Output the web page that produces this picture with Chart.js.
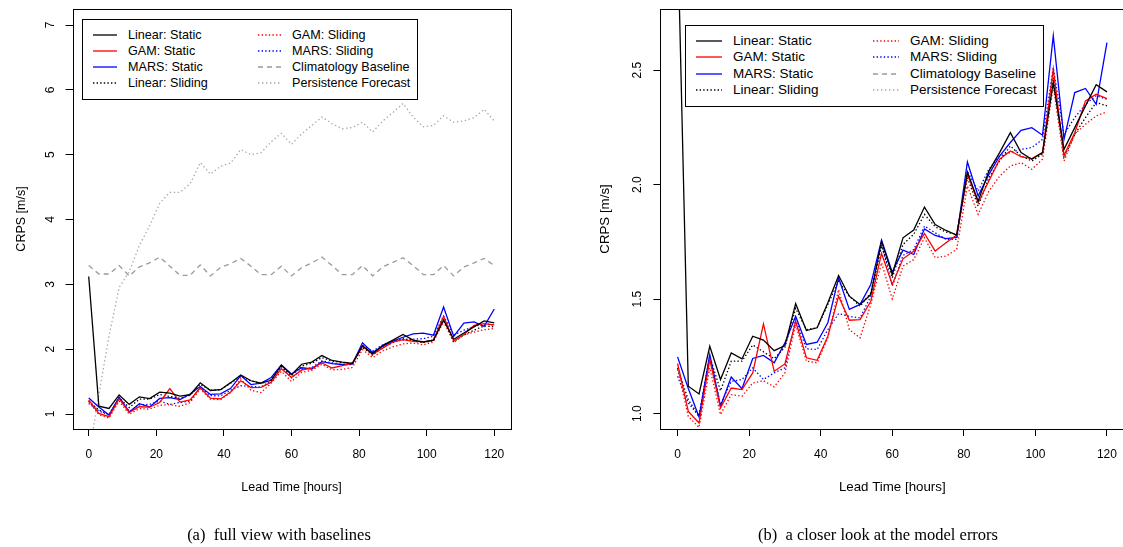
<!DOCTYPE html>
<html>
<head>
<meta charset="utf-8">
<script src="https://cdn.jsdelivr.net/npm/chart.js@4.4.1/dist/chart.umd.min.js"></script>
<style>
  html, body { margin: 0; padding: 0; background: #fff; }
  body { width: 1123px; height: 547px; position: relative; overflow: hidden; font-family: "Liberation Sans", Arial, sans-serif; }
  .panel { position: absolute; top: 0; height: 547px; }
  .legend { position: absolute; border: 1px solid #000; background: #fff; box-sizing: border-box; }
  .legend .txt { position: absolute; white-space: nowrap; line-height: 1; transform: translateY(-50%); color: #000; }
  .legend svg { position: absolute; overflow: visible; }
  .caption { position: absolute; top: 525px; transform: translateX(-50%); white-space: nowrap;
             font-family: "Liberation Serif", "Times New Roman", serif; font-size: 16.5px; color: #000; }
</style>
</head>
<body>
<div class="panel" style="left:0;width:560px"><canvas id="chartA"></canvas></div>
<div class="panel" style="left:560px;width:568px"><canvas id="chartB"></canvas></div>
<div id="legendA" class="legend" style="left:82px;top:19px;width:336px;height:81px"></div>
<div id="legendB" class="legend" style="left:685px;top:25px;width:359px;height:82px"></div>
<div class="caption" style="left:279px">(a)&nbsp; full view with baselines</div>
<div class="caption" style="left:878px">(b)&nbsp; a closer look at the model errors</div>

<script>
// lead times in hours
const leadTimes = [0, 3, 6, 9, 12, 15, 18, 21, 24, 27, 30, 33, 36, 39, 42, 45, 48, 51, 54, 57, 60,
                   63, 66, 69, 72, 75, 78, 81, 84, 87, 90, 93, 96, 99, 102, 105, 108, 111, 114, 117, 120];

// CRPS [m/s] per model
const linearStatic = [3.12, 1.12, 1.086, 1.294, 1.149, 1.265, 1.239, 1.338, 1.321, 1.275, 1.297, 1.481, 1.363, 1.375,
  1.484, 1.603, 1.513, 1.477, 1.52, 1.753, 1.608, 1.768, 1.802, 1.902, 1.826, 1.8, 1.78, 2.055, 1.928, 2.059,
  2.14, 2.227, 2.14, 2.111, 2.14, 2.446, 2.154, 2.249, 2.344, 2.436, 2.405];
const gamStatic = [1.219, 1.01, 0.959, 1.236, 1.025, 1.112, 1.105, 1.178, 1.392, 1.185, 1.217, 1.404, 1.244, 1.233,
  1.338, 1.513, 1.408, 1.411, 1.491, 1.7, 1.564, 1.676, 1.71, 1.787, 1.71, 1.746, 1.78, 2.045, 1.921, 2.016,
  2.111, 2.147, 2.122, 2.114, 2.14, 2.504, 2.128, 2.227, 2.366, 2.395, 2.376];
const marsStatic = [1.248, 1.11, 0.985, 1.258, 1.032, 1.16, 1.109, 1.241, 1.254, 1.222, 1.309, 1.425, 1.302, 1.312,
  1.397, 1.593, 1.455, 1.477, 1.564, 1.758, 1.618, 1.714, 1.695, 1.807, 1.778, 1.764, 1.77, 2.099, 1.95, 2.045,
  2.125, 2.184, 2.237, 2.249, 2.216, 2.65, 2.198, 2.402, 2.42, 2.351, 2.62];
const linearSliding = [1.2, 1.06, 0.99, 1.25, 1.1, 1.229, 1.229, 1.3, 1.27, 1.24, 1.29, 1.46, 1.367, 1.375,
  1.477, 1.579, 1.513, 1.469, 1.528, 1.732, 1.593, 1.739, 1.783, 1.87, 1.816, 1.793, 1.783, 2.03, 1.906, 2.03,
  2.103, 2.169, 2.125, 2.103, 2.133, 2.468, 2.118, 2.22, 2.293, 2.359, 2.344];
const gamSliding = [1.193, 0.988, 0.94, 1.2, 0.996, 1.083, 1.076, 1.134, 1.144, 1.117, 1.178, 1.389, 1.229, 1.222,
  1.331, 1.542, 1.367, 1.331, 1.477, 1.659, 1.501, 1.644, 1.673, 1.768, 1.681, 1.688, 1.717, 1.994, 1.87, 1.972,
  2.037, 2.081, 2.096, 2.067, 2.111, 2.431, 2.103, 2.22, 2.264, 2.3, 2.318];
const marsSliding = [1.163, 1.047, 0.988, 1.251, 1.039, 1.141, 1.149, 1.2, 1.149, 1.178, 1.2, 1.411, 1.283, 1.28,
  1.367, 1.437, 1.425, 1.418, 1.513, 1.739, 1.557, 1.691, 1.717, 1.819, 1.79, 1.761, 1.761, 2.059, 1.972, 2.067,
  2.125, 2.14, 2.154, 2.162, 2.198, 2.511, 2.22, 2.293, 2.351, 2.388, 2.373];
const climatology = [3.29, 3.16, 3.16, 3.29, 3.13, 3.27, 3.33, 3.42, 3.28, 3.14, 3.14, 3.3, 3.13, 3.26,
  3.32, 3.4, 3.28, 3.15, 3.15, 3.28, 3.13, 3.26, 3.33, 3.42, 3.29, 3.15, 3.15, 3.29, 3.13, 3.27,
  3.34, 3.41, 3.29, 3.15, 3.15, 3.29, 3.13, 3.27, 3.33, 3.4, 3.29];
const persistence = [0.35, 1.3, 2.2, 2.95, 3.2, 3.6, 3.9, 4.25, 4.42, 4.42, 4.55, 4.88, 4.7, 4.82,
  4.87, 5.08, 5.0, 5.03, 5.2, 5.33, 5.16, 5.32, 5.45, 5.58, 5.48, 5.4, 5.42, 5.5, 5.35, 5.52,
  5.65, 5.79, 5.58, 5.43, 5.45, 5.6, 5.5, 5.52, 5.57, 5.7, 5.52];

const xTicks = [0, 20, 40, 60, 80, 100, 120];
const yTicksFull = [1, 2, 3, 4, 5, 6, 7];
const yTicksZoom = [1.0, 1.5, 2.0, 2.5];

const SOLID = [], DOTTED = [1.4, 2.2], DASHED = [5, 4], GDOT = [1.4, 2.6];
const series = [
  { label: 'Linear: Static', values: linearStatic, color: '#000000', dash: SOLID },
  { label: 'GAM: Static', values: gamStatic, color: '#ff0000', dash: SOLID },
  { label: 'MARS: Static', values: marsStatic, color: '#0000ff', dash: SOLID },
  { label: 'Linear: Sliding', values: linearSliding, color: '#000000', dash: DOTTED },
  { label: 'GAM: Sliding', values: gamSliding, color: '#ff0000', dash: DOTTED },
  { label: 'MARS: Sliding', values: marsSliding, color: '#0000ff', dash: DOTTED },
  { label: 'Climatology Baseline', values: climatology, color: '#9a9a9a', dash: DASHED, baseline: true },
  { label: 'Persistence Forecast', values: persistence, color: '#a8a8a8', dash: GDOT, baseline: true }
];

// box round the plot + R-style rotated y tick labels
const rBox = {
  id: 'rBox',
  afterDraw(chart, args, o) {
    const { ctx, chartArea: a } = chart;
    const ys = chart.scales.y;
    ctx.save();
    ctx.strokeStyle = '#000';
    ctx.lineWidth = 1;
    ctx.strokeRect(Math.round(a.left) + 0.5, Math.round(a.top) + 0.5,
                   Math.round(a.right - a.left), Math.round(a.bottom - a.top));
    ctx.fillStyle = '#000';
    ctx.font = o.font;
    ctx.textAlign = 'center';
    ctx.textBaseline = 'middle';
    ys.ticks.forEach(t => {
      ctx.save();
      ctx.translate(a.left - 23.3, ys.getPixelForValue(t.value));
      ctx.rotate(-Math.PI / 2);
      ctx.fillText(o.digits ? t.value.toFixed(o.digits) : String(t.value), 0, 1);
      ctx.restore();
    });
    ctx.restore();
  }
};

function makeChart(id, cfg) {
  const datasets = series.filter(s => cfg.withBaselines || !s.baseline).map(s => ({
    label: s.label,
    data: leadTimes.map((t, i) => ({ x: t, y: s.values[i] })),
    borderColor: s.color,
    borderWidth: 1.3,
    borderDash: s.dash,
    pointRadius: 0,
    tension: 0,
    fill: false
  }));

  return new Chart(document.getElementById(id), {
    type: 'line',
    data: { datasets },
    plugins: [rBox],
    options: {
      animation: false,
      responsive: true,
      maintainAspectRatio: false,
      devicePixelRatio: 1,
      layout: { padding: { top: 9, left: 0, right: cfg.padRight, bottom: 0 } },
      plugins: {
        legend: { display: false },
        tooltip: { enabled: false },
        rBox: { font: '12px "Liberation Sans", Arial, sans-serif', digits: cfg.digits }
      },
      scales: {
        x: {
          type: 'linear',
          min: -4.8,
          max: 124.8,
          afterBuildTicks: s => { s.ticks = xTicks.map(v => ({ value: v })); },
          afterFit: s => { s.height = 118; },
          ticks: { color: '#000', padding: 11, font: { family: '"Liberation Sans", Arial', size: 12 } },
          grid: { drawOnChartArea: false, drawTicks: true, tickLength: 7, color: '#000', lineWidth: 1 },
          border: { display: false },
          title: {
            display: true, text: 'Lead Time [hours]', color: '#000',
            font: { family: '"Liberation Sans", Arial', size: cfg.titleSize },
            padding: { top: 0, bottom: 59.3 - cfg.titleSize * 0.6 }
          }
        },
        y: {
          type: 'linear',
          min: cfg.yMin,
          max: cfg.yMax,
          afterBuildTicks: s => { s.ticks = cfg.yTicks.map(v => ({ value: v })); },
          afterFit: s => { s.width = cfg.yWidth; },
          ticks: { display: false },
          grid: { drawOnChartArea: false, drawTicks: true, tickLength: 7, color: '#000', lineWidth: 1 },
          border: { display: false },
          title: {
            display: true, text: 'CRPS [m/s]', color: '#000',
            font: { family: '"Liberation Sans", Arial', size: cfg.titleSize },
            padding: { top: cfg.titleX - cfg.titleSize * 0.6, bottom: 0 }
          }
        }
      }
    }
  });
}

makeChart('chartA', { withBaselines: true, yMin: 0.769, yMax: 7.247, yTicks: yTicksFull, digits: 0,
  yWidth: 72.5, padRight: 49.5, titleSize: 12.5, titleX: 21.7 });
makeChart('chartB', { withBaselines: false, yMin: 0.933, yMax: 2.767, yTicks: yTicksZoom, digits: 1,
  yWidth: 100.4, padRight: 1, titleSize: 13.3, titleX: 45 });

// two-column boxed legends
function buildLegend(id, g) {
  const el = document.getElementById(id);
  let html = '';
  series.forEach((s, i) => {
    const col = Math.floor(i / 4), row = i % 4;
    const y = g.rowY + row * g.rowGap;
    const sx = g.sampleX[col], tx = g.textX[col];
    html += `<svg style="left:${sx}px;top:${y - 2}px" width="${g.sampleW}" height="4">` +
      `<line x1="0" y1="2" x2="${g.sampleW}" y2="2" stroke="${s.color}" stroke-width="1.3"` +
      (s.dash.length ? ` stroke-dasharray="${s.dash.join(' ')}"` : '') + '/></svg>';
    html += `<div class="txt" style="left:${tx}px;top:${y}px;font-size:${g.fontSize}px">${s.label}</div>`;
  });
  el.innerHTML = html;
}

buildLegend('legendA', { rowY: 15, rowGap: 16, sampleX: [10, 175], sampleW: 24, textX: [45, 209], fontSize: 12.6 });
buildLegend('legendB', { rowY: 15, rowGap: 16.3, sampleX: [10, 187], sampleW: 26, textX: [47, 224], fontSize: 13.5 });
</script>
</body>
</html>
